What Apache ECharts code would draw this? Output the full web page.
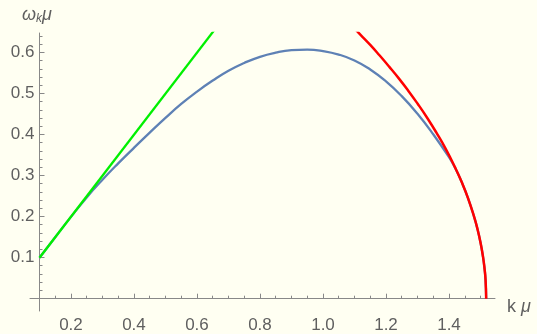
<!DOCTYPE html>
<html>
<head>
<meta charset="utf-8">
<script src="https://cdn.jsdelivr.net/npm/echarts@6/dist/echarts.min.js"></script>
<style>
html,body{margin:0;padding:0;background:#fffff2;}
#c{width:537px;height:334px;}
</style>
</head>
<body>
<div id="c"></div>
<script>
// ---- data ----
const blueK = [0.1,0.15,0.2,0.25,0.3,0.35,0.4,0.45,0.5,0.55,0.6,0.65,0.7,0.75,0.8,0.85,0.9,0.95,1.0,1.05,1.1,1.15,1.2,1.25,1.3,1.35,1.4,1.42,1.44,1.46,1.48,1.49,1.5,1.508,1.513,1.516,1.518];
const blueW = [0.100,0.150,0.1995,0.247,0.290,0.330,0.368,0.405,0.441,0.475,0.505,0.532,0.556,0.575,0.590,0.600,0.606,0.6075,0.604,0.5955,0.581,0.559,0.530,0.494,0.451,0.401,0.345,0.318,0.285,0.246,0.199,0.171,0.137,0.102,0.072,0.046,0.0];
const redK = [1.10,1.12,1.15,1.18,1.21,1.24,1.27,1.30,1.33,1.36,1.39,1.42,1.44,1.46,1.48,1.49,1.50,1.508,1.513,1.516,1.518];
const redW = [0.659,0.643,0.619,0.593,0.566,0.538,0.508,0.476,0.442,0.405,0.365,0.319,0.285,0.246,0.199,0.171,0.137,0.102,0.072,0.046,0.0];
const greenK = [0.1,0.7];
const greenW = [0.1,0.7];
const xMajorTicks = [0.2,0.4,0.6,0.8,1.0,1.2,1.4];
const xMinorTicks = [0.15,0.25,0.3,0.35,0.45,0.5,0.55,0.65,0.7,0.75,0.85,0.9,0.95,1.05,1.1,1.15,1.25,1.3,1.35,1.45,1.5];
const yMajorTicks = [0.1,0.2,0.3,0.4,0.5,0.6];
const yMinorTicks = [0.02,0.04,0.06,0.08,0.12,0.14,0.16,0.18,0.22,0.24,0.26,0.28,0.32,0.34,0.36,0.38,0.42,0.44,0.46,0.48,0.52,0.54,0.56,0.58,0.62,0.64];
const xAxisCross = 0.1;   // y-axis drawn at k = 0.1

const xMin = 0.07, xMax = 1.546, yMin = -0.03, yMax = 0.648;
const gridLeft = 30, gridTop = 33, gridW = 465, gridH = 287;
const yAxisOffset = -(xAxisCross - xMin) / (xMax - xMin) * gridW;

const zip = (a, b) => a.map((v, i) => [v, b[i]]);
const axisCol = '#888888';
const tickCol = '#888888';
const labCol = '#5f5f5f';
const fontFam = '"Liberation Sans", Arial, sans-serif';

function xAxisDef(ticks, len, main) {
  return {
    type: 'value', min: xMin, max: xMax, position: 'bottom',
    axisLine: {show: main, onZero: true, onZeroAxisIndex: 0, lineStyle: {color: axisCol, width: 1}},
    axisTick: {show: true, inside: true, length: len, customValues: ticks, lineStyle: {color: tickCol, width: 1}},
    axisLabel: main ? {show: true, customValues: xMajorTicks, formatter: v => v.toFixed(1), color: labCol, fontSize: 17, fontFamily: fontFam, margin: 6} : {show: false},
    splitLine: {show: false}
  };
}
function yTickRender(len) {
  return function (params, api) {
    const p = api.coord([xAxisCross, api.value(1)]);
    const x = Math.round(p[0] - 0.5) + 0.5, y = Math.round(p[1] - 0.5) + 0.5;
    return {type: 'line', shape: {x1: x, y1: y, x2: x + len, y2: y}, style: {stroke: tickCol, lineWidth: 1}};
  };
}

const chart = echarts.init(document.getElementById('c'), null, {renderer: 'canvas'});
chart.setOption({
  backgroundColor: '#fffff2',
  animation: false,
  grid: {left: gridLeft, top: gridTop, width: gridW, height: gridH, containLabel: false},
  xAxis: [xAxisDef(xMajorTicks, 5, true), xAxisDef(xMinorTicks, 3, false)],
  yAxis: {
    type: 'value', min: yMin, max: yMax, position: 'left', offset: yAxisOffset,
    axisLine: {show: true, onZero: false, lineStyle: {color: axisCol, width: 1}},
    axisTick: {show: false},
    axisLabel: {show: true, customValues: yMajorTicks, formatter: v => v.toFixed(1), color: labCol, fontSize: 17, fontFamily: fontFam, margin: 5},
    splitLine: {show: false}
  },
  graphic: [{
    type: 'text', left: 22, top: 6, silent: true,
    style: {
      text: '{w|ω}{s|k}{m|μ}',
      rich: {
        w: {fontSize: 18, fontStyle: 'italic', fill: labCol, fontFamily: fontFam},
        s: {fontSize: 12, fontStyle: 'italic', fill: labCol, fontFamily: fontFam, padding: [8, 0, 0, 0]},
        m: {fontSize: 18, fontStyle: 'italic', fill: labCol, fontFamily: fontFam}
      }
    }
  }, {
    type: 'text', left: 507, top: 298, silent: true,
    style: {
      text: '{a|k }{b|μ}',
      rich: {
        a: {fontSize: 18, fill: labCol, fontFamily: fontFam},
        b: {fontSize: 18, fontStyle: 'italic', fill: labCol, fontFamily: fontFam}
      }
    }
  }],
  series: [{
    type: 'custom', name: 'yMajor', data: yMajorTicks.map(v => [xAxisCross, v]),
    renderItem: yTickRender(5), clip: false, silent: true, z: 1
  }, {
    type: 'custom', name: 'yMinor', data: yMinorTicks.map(v => [xAxisCross, v]),
    renderItem: yTickRender(3), clip: false, silent: true, z: 1
  }, {
    type: 'line', name: 'blue',
    data: zip(blueK, blueW), showSymbol: false, smooth: 0.5, clip: true, z: 2,
    lineStyle: {color: '#5e81b5', width: 2.3}
  }, {
    type: 'line', name: 'green',
    data: zip(greenK, greenW), showSymbol: false, clip: true, z: 3,
    lineStyle: {color: '#00f000', width: 2.3}
  }, {
    type: 'line', name: 'red',
    data: zip(redK, redW), showSymbol: false, smooth: 0.5, clip: true, z: 4,
    lineStyle: {color: '#ff0000', width: 2.5}
  }]
});
</script>
</body>
</html>
